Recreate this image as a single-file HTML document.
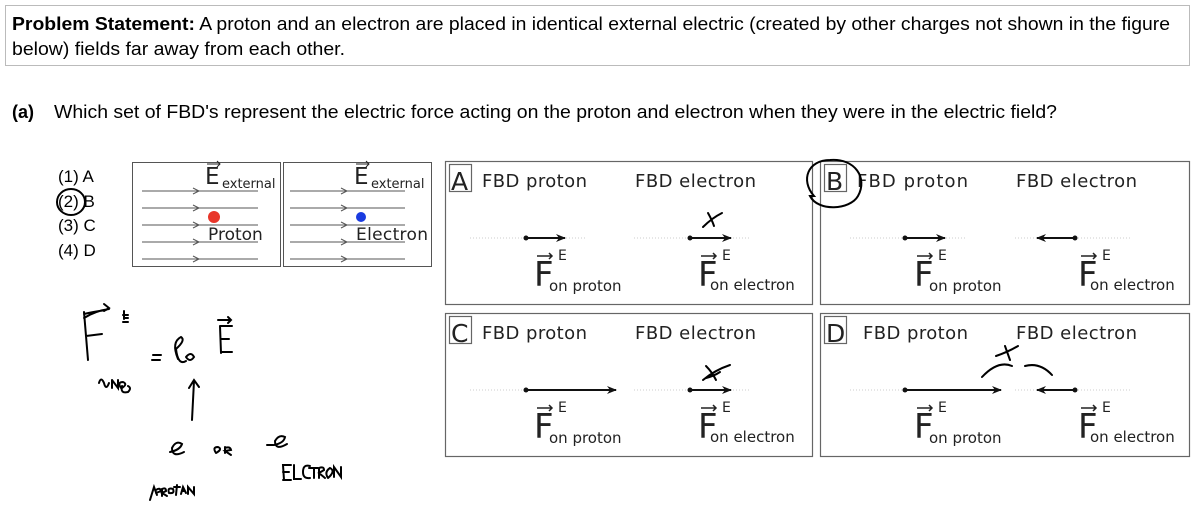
<!DOCTYPE html>
<html><head><meta charset="utf-8"><style>
body{margin:0;background:#fff;width:1200px;height:512px;overflow:hidden}
svg{display:block}
.c{font-family:"Liberation Sans",sans-serif;fill:#000}
.d{font-family:"DejaVu Sans","Liberation Sans",sans-serif;fill:#222}
</style></head><body>
<svg width="1200" height="512" viewBox="0 0 1200 512" xmlns="http://www.w3.org/2000/svg">
<defs>
<marker id="ah" markerWidth="10" markerHeight="8" refX="9" refY="4" orient="auto" markerUnits="userSpaceOnUse"><path d="M0,0 L10,4 L0,8 L3,4 Z" fill="#111"/></marker>
</defs>
<rect x="5.5" y="5.5" width="1184" height="60" fill="none" stroke="#bbb"/>
<text class="c" x="12" y="30" font-size="18" textLength="1158" lengthAdjust="spacingAndGlyphs"><tspan font-weight="bold">Problem Statement:</tspan> A proton and an electron are placed in identical external electric (created by other charges not shown in the figure</text>
<text class="c" x="12" y="55" font-size="18" textLength="333" lengthAdjust="spacingAndGlyphs">below) fields far away from each other.</text>
<text class="c" x="12" y="118" font-size="18" font-weight="bold">(a)</text>
<text class="c" x="54" y="118" font-size="18" textLength="1003" lengthAdjust="spacingAndGlyphs">Which set of FBD's represent the electric force acting on the proton and electron when they were in the electric field?</text>

<g class="c" font-size="17">
<text x="58" y="182">(1)  A</text><text x="58" y="207">(2)  B</text><text x="58" y="231">(3)  C</text><text x="58" y="256">(4)  D</text>
</g>
<ellipse cx="71" cy="202" rx="14" ry="13" fill="none" stroke="#000" stroke-width="2"/>

<rect x="132.5" y="162.5" width="148" height="104" fill="none" stroke="#555"/>
<rect x="283.5" y="162.5" width="148" height="104" fill="none" stroke="#555"/>
<g stroke="#555" stroke-width="1">
<line x1="142" y1="191" x2="258" y2="191"/><line x1="142" y1="208" x2="258" y2="208"/><line x1="142" y1="225" x2="258" y2="225"/><line x1="142" y1="242" x2="258" y2="242"/><line x1="142" y1="259" x2="258" y2="259"/>
<line x1="290" y1="191" x2="405" y2="191"/><line x1="290" y1="208" x2="405" y2="208"/><line x1="290" y1="225" x2="405" y2="225"/><line x1="290" y1="242" x2="405" y2="242"/><line x1="290" y1="259" x2="405" y2="259"/>
<path d="M193,188 L199,191 L193,194 M193,205 L199,208 L193,211 M193,222 L199,225 L193,228 M193,239 L199,242 L193,245 M193,256 L199,259 L193,262 M341,188 L347,191 L341,194 M341,205 L347,208 L341,211 M341,222 L347,225 L341,228 M341,239 L347,242 L341,245 M341,256 L347,259 L341,262" fill="none"/>
</g>
<text class="d" x="205" y="184" font-size="23">E</text><text class="d" x="222" y="188" font-size="13">external</text>
<text class="d" x="354" y="184" font-size="23">E</text><text class="d" x="371" y="188" font-size="13">external</text>
<path d="M207,164 h13 M217,161 l3,3 l-3,3 M356,164 h13 M366,161 l3,3 l-3,3" stroke="#222" fill="none"/>
<circle cx="214" cy="217" r="6" fill="#e8362a"/>
<circle cx="361" cy="217" r="5" fill="#1a3be0"/>
<text class="d" x="208" y="240" font-size="17">Proton</text>
<text class="d" x="356" y="240" font-size="17" textLength="72">Electron</text>

<g fill="none" stroke="#666" stroke-width="1.2">
<rect x="445.5" y="161.5" width="367" height="143"/><rect x="820.5" y="161.5" width="369" height="143"/>
<rect x="445.5" y="313.5" width="367" height="143"/><rect x="820.5" y="313.5" width="369" height="143"/>
<rect x="449.5" y="164.5" width="22" height="27"/><rect x="824.5" y="164.5" width="22" height="27"/>
<rect x="449.5" y="316.5" width="22" height="27"/><rect x="824.5" y="316.5" width="22" height="27"/>
</g>
<g class="d">
<text x="451" y="190" font-size="25">A</text><text x="826" y="190" font-size="25">B</text>
<text x="451" y="342" font-size="25">C</text><text x="826" y="342" font-size="25">D</text>
<g font-size="18">
<text x="482" y="187" textLength="105">FBD proton</text><text x="635" y="187" textLength="121">FBD electron</text>
<text x="857" y="187" textLength="111">FBD proton</text><text x="1016" y="187" textLength="121">FBD electron</text>
<text x="482" y="339" textLength="105">FBD proton</text><text x="635" y="339" textLength="121">FBD electron</text>
<text x="863" y="339" textLength="105">FBD proton</text><text x="1016" y="339" textLength="121">FBD electron</text>
</g>
</g>
<g stroke="#ccc" stroke-dasharray="1,2" stroke-width="1">
<line x1="470" y1="238" x2="585" y2="238"/><line x1="634" y1="238" x2="750" y2="238"/>
<line x1="850" y1="238" x2="965" y2="238"/><line x1="1015" y1="238" x2="1130" y2="238"/>
<line x1="470" y1="390" x2="615" y2="390"/><line x1="634" y1="390" x2="750" y2="390"/>
<line x1="850" y1="390" x2="1000" y2="390"/><line x1="1015" y1="390" x2="1130" y2="390"/>
</g>
<g stroke="#111" stroke-width="2">
<line x1="526" y1="238" x2="565" y2="238" marker-end="url(#ah)"/>
<line x1="690" y1="238" x2="731" y2="238" marker-end="url(#ah)"/>
<line x1="905" y1="238" x2="945" y2="238" marker-end="url(#ah)"/>
<line x1="1075" y1="238" x2="1037" y2="238" marker-end="url(#ah)"/>
<line x1="526" y1="390" x2="616" y2="390" marker-end="url(#ah)"/>
<line x1="690" y1="390" x2="731" y2="390" marker-end="url(#ah)"/>
<line x1="905" y1="390" x2="1001" y2="390" marker-end="url(#ah)"/>
<line x1="1075" y1="390" x2="1037" y2="390" marker-end="url(#ah)"/>
</g>
<g fill="#111"><circle cx="526" cy="238" r="2.5"/><circle cx="690" cy="238" r="2.5"/><circle cx="905" cy="238" r="2.5"/><circle cx="1075" cy="238" r="2.5"/><circle cx="526" cy="390" r="2.5"/><circle cx="690" cy="390" r="2.5"/><circle cx="905" cy="390" r="2.5"/><circle cx="1075" cy="390" r="2.5"/></g>
<g class="d">
<g font-size="34"><text x="534" y="286">F</text><text x="698" y="286">F</text><text x="914" y="286">F</text><text x="1078" y="286">F</text>
<text x="534" y="438">F</text><text x="698" y="438">F</text><text x="914" y="438">F</text><text x="1078" y="438">F</text></g>
<g font-size="14"><text x="558" y="260">E</text><text x="722" y="260">E</text><text x="938" y="260">E</text><text x="1102" y="260">E</text>
<text x="558" y="412">E</text><text x="722" y="412">E</text><text x="938" y="412">E</text><text x="1102" y="412">E</text></g>
<g font-size="15"><text x="549" y="291">on proton</text><text x="710" y="290">on electron</text><text x="929" y="291">on proton</text><text x="1090" y="290">on electron</text>
<text x="549" y="443">on proton</text><text x="710" y="442">on electron</text><text x="929" y="443">on proton</text><text x="1090" y="442">on electron</text></g>
</g>
<g stroke="#222" stroke-width="1.5" fill="none">
<path d="M537,256 h15 M549,253 l3,3 l-3,3 M701,256 h15 M713,253 l3,3 l-3,3 M917,256 h15 M929,253 l3,3 l-3,3 M1081,256 h15 M1093,253 l3,3 l-3,3 M537,408 h15 M549,405 l3,3 l-3,3 M701,408 h15 M713,405 l3,3 l-3,3 M917,408 h15 M929,405 l3,3 l-3,3 M1081,408 h15 M1093,405 l3,3 l-3,3"/>
</g>
<g stroke="#000" stroke-width="2" fill="none" stroke-linecap="round">
<path d="M703,227 Q712,218 722,213 M708,213 Q712,220 714,226"/>
<path d="M703,380 Q715,370 730,365 M706,366 Q712,372 716,380 M706,378 q8,-2 14,-6"/>
<path d="M996,356 Q1008,352 1018,346 M1005,346 L1010,360"/>
<path d="M982,377 Q998,360 1012,366 M1025,366 Q1040,362 1052,375"/>
<path d="M814,196 C800,180 808,160 830,160 C855,158 868,178 858,196 C850,210 818,212 810,196 Z"/>
<path d="M84,312 L88,360 M84,314 Q92,312 106,310 M86,336 L102,334 M84,318 Q95,311 109,309 M104,304 l5,4 l-5,3"/>
<path d="M123,315 h5 M124,311 v8 M123,322 h5 M124,318 h4"/>
<path d="M153,355 h8 M152,360 h8"/>
<path d="M178,359 Q171,342 181,337 Q186,340 176,349 Q178,366 186,361 M186,357 q5,-6 8,0 q-4,6 -8,0"/>
<path d="M220,326 L221,353 M220,326 h12 M221,339 h8 M221,352 h11 M218,320 h13 M228,317 l3,3 l-3,3"/>
<path d="M192,420 L194,381 M189,388 L194,380 L199,387"/>
<path d="M99,383 q2,-7 5,0 q2,8 5,0 M112,380 v8 M112,380 l6,8 v-8 M121,388 q-4,-6 2,-6 q5,2 -1,6 M122,386 q-2,8 6,6 q4,-4 0,-6"/>
<path d="M170,452 q10,-2 12,-8 q-6,-4 -10,4 q0,10 12,4"/>
<path d="M216,453 q-4,-6 2,-6 q5,2 -2,6 M225,447 v6 M225,448 q5,-2 6,2 l-6,1 l6,4"/>
<path d="M267,445 h6 M274,445 q10,-2 11,-8 q-6,-3 -10,4 q0,10 12,3"/>
<path d="M150,500 l4,-13 l3,8 M156,490 q4,-3 5,1 l-5,2 M162,496 v-7 q4,-2 4,2 l-4,2 l5,3 M169,493 q-2,-6 4,-4 q2,5 -4,4 M177,485 l-1,10 M174,487 h6 M181,494 l2,-7 l3,6 M185,491 h-3 M188,494 v-7 l6,7 v-7"/>
<path d="M284,480 l-1,-15 h8 M283,472 h6 M283,480 h8 M294,465 v14 h7 M310,466 q-7,-2 -7,6 q0,7 7,6 M309,468 h9 M314,468 v10 M319,478 v-10 q5,-2 5,2 l-5,3 l6,5 M328,478 q-4,-6 2,-10 q6,3 -2,10 M334,477 v-10 l7,10 v-10"/>
</g>
</svg>
</body></html>
